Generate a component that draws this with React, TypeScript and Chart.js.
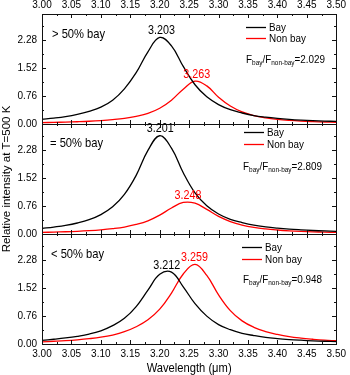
import React, { useEffect, useRef } from "react";
import { Chart, registerables } from "chart.js";

Chart.register(...registerables);

// ---------- data ----------
const WAVELENGTH = [
  3.0, 3.02, 3.04, 3.06, 3.08, 3.1, 3.12, 3.14, 3.16, 3.18, 3.2, 3.22, 3.24,
  3.26, 3.28, 3.3, 3.32, 3.34, 3.36, 3.38, 3.4, 3.42, 3.44, 3.46, 3.48, 3.5,
];

const BAY_GT = [0.13, 0.16, 0.2, 0.26, 0.345, 0.46, 0.65, 0.96, 1.4, 1.97, 2.36, 2.13, 1.57, 1.07, 0.74, 0.53, 0.39, 0.3, 0.23, 0.187, 0.154, 0.128, 0.108, 0.093, 0.08, 0.07];
const NONBAY_GT = [0.038, 0.044, 0.052, 0.062, 0.075, 0.094, 0.12, 0.155, 0.21, 0.29, 0.43, 0.65, 0.95, 1.17, 1.04, 0.73, 0.49, 0.33, 0.23, 0.169, 0.128, 0.1, 0.08, 0.066, 0.055, 0.046];

const BAY_EQ = [0.15, 0.19, 0.236, 0.3, 0.39, 0.53, 0.74, 1.08, 1.6, 2.28, 2.68, 2.34, 1.67, 1.12, 0.77, 0.545, 0.4, 0.31, 0.24, 0.194, 0.16, 0.133, 0.113, 0.096, 0.083, 0.073];
const NONBAY_EQ = [0.044, 0.052, 0.062, 0.074, 0.091, 0.114, 0.146, 0.19, 0.26, 0.36, 0.515, 0.71, 0.86, 0.84, 0.67, 0.48, 0.34, 0.244, 0.18, 0.138, 0.109, 0.087, 0.071, 0.059, 0.05, 0.043];

const BAY_LT = [0.1, 0.13, 0.165, 0.21, 0.27, 0.36, 0.5, 0.7, 1.02, 1.47, 1.9, 1.96, 1.56, 1.1, 0.76, 0.53, 0.39, 0.29, 0.23, 0.18, 0.147, 0.122, 0.103, 0.087, 0.075, 0.066];
const NONBAY_LT = [0.06, 0.075, 0.092, 0.115, 0.145, 0.185, 0.245, 0.335, 0.47, 0.66, 0.95, 1.39, 1.91, 2.17, 1.87, 1.34, 0.91, 0.63, 0.455, 0.34, 0.26, 0.2, 0.16, 0.13, 0.105, 0.088];

const PANEL_LABELS = ["> 50% bay", "= 50% bay", "< 50% bay"];
const PEAK_BAY = [3.203, 3.201, 3.212];
const PEAK_NONBAY = [3.263, 3.248, 3.259];
const RATIOS = ["2.029", "2.809", "0.948"];
const SERIES_NAMES = ["Bay", "Non bay"];

const X_TICKS = [3.0, 3.05, 3.1, 3.15, 3.2, 3.25, 3.3, 3.35, 3.4, 3.45, 3.5];
const Y_TICKS = [0, 0.76, 1.52, 2.28];
const X_MIN = 3.0;
const X_MAX = 3.5;
const Y_MIN = 0;
const Y_MAX = 3.0;

const Y_TITLE = "Relative intensity at T=500 K";
const X_TITLE = "Wavelength (\u03bcm)";

// ---------- styling / layout ----------
const FONT = "'Liberation Sans', Arial, Helvetica, sans-serif";
const BLACK = "#000000";
const RED = "#ff0000";
const SX = 0.86; // horizontal condensing of annotation text

const PANEL_SERIES = [
  [BAY_GT, NONBAY_GT],
  [BAY_EQ, NONBAY_EQ],
  [BAY_LT, NONBAY_LT],
];

// per-panel annotation placement (offsets from panel top / chart area edges)
const LAYOUT = [
  { labelX: 10, labelDy: 20, legX: -90, legDy: [13, 24], ratioX: -90, ratioDy: 46 },
  { labelX: 8, labelDy: 19, legX: -92, legDy: [8, 20], ratioX: -93, ratioDy: 43 },
  { labelX: 9, labelDy: 20, legX: -94, legDy: [13, 25], ratioX: -93, ratioDy: 46 },
];

function condensedText(ctx: CanvasRenderingContext2D, text: string, x: number, y: number, font: string, color: string, align: CanvasTextAlign) {
  ctx.save();
  ctx.font = font;
  ctx.fillStyle = color;
  ctx.textAlign = align;
  ctx.textBaseline = "middle";
  const w = ctx.measureText(text).width * SX;
  ctx.translate(x, y);
  ctx.scale(SX, 1);
  ctx.fillText(text, 0, 0);
  ctx.restore();
  return w;
}

const panelPlugin = {
  id: "panelDecor",
  afterDatasetsDraw(chart: any) {
    const ctx: CanvasRenderingContext2D = chart.ctx;
    const xs = chart.scales.x;
    const area = chart.chartArea;
    const left = Math.round(area.left);
    const right = Math.round(area.right);

    for (let i = 0; i < 3; i++) {
      const ys = chart.scales["y" + i];
      const top = Math.round(ys.top);
      const bottom = Math.round(ys.bottom);
      ctx.save();
      ctx.strokeStyle = "#111";
      ctx.lineWidth = 1;
      ctx.strokeRect(left + 0.5, top + 0.5, right - left, bottom - top);

      // x ticks (inward, top and bottom of each panel)
      ctx.beginPath();
      for (let k = 0; k < X_TICKS.length; k++) {
        const px = Math.round(xs.getPixelForValue(X_TICKS[k])) + 0.5;
        ctx.moveTo(px, bottom);
        ctx.lineTo(px, bottom - 4);
        ctx.moveTo(px, top);
        ctx.lineTo(px, top + 4);
        if (k < X_TICKS.length - 1) {
          const mx = Math.round(xs.getPixelForValue((X_TICKS[k] + X_TICKS[k + 1]) / 2)) + 0.5;
          ctx.moveTo(mx, bottom);
          ctx.lineTo(mx, bottom - 2);
          ctx.moveTo(mx, top);
          ctx.lineTo(mx, top + 2);
        }
      }
      // y ticks (inward, left and right)
      const step = Y_TICKS[1] - Y_TICKS[0];
      const all: [number, number][] = [];
      for (let k = 0; k < Y_TICKS.length; k++) {
        all.push([Y_TICKS[k], 4]);
        all.push([Y_TICKS[k] + step / 2, 2]);
      }
      for (const [v, len] of all) {
        if (v > Y_MAX) continue;
        const py = Math.round(ys.getPixelForValue(v)) + 0.5;
        ctx.moveTo(left, py);
        ctx.lineTo(left + len, py);
        ctx.moveTo(right, py);
        ctx.lineTo(right - len, py);
      }
      ctx.stroke();
      ctx.restore();

      const L = LAYOUT[i];
      // panel label
      condensedText(ctx, PANEL_LABELS[i], left + L.labelX, top + L.labelDy, `13px ${FONT}`, BLACK, "left");

      // peak labels
      const [bay, non] = PANEL_SERIES[i];
      const bayMax = Math.max(...bay);
      const nonMax = Math.max(...non);
      condensedText(ctx, PEAK_BAY[i].toFixed(3), xs.getPixelForValue(PEAK_BAY[i]), ys.getPixelForValue(bayMax) - 7, `12.5px ${FONT}`, BLACK, "center");
      condensedText(ctx, PEAK_NONBAY[i].toFixed(3), xs.getPixelForValue(PEAK_NONBAY[i]), ys.getPixelForValue(nonMax) - 7, `12.5px ${FONT}`, RED, "center");

      // legend
      const colors = [BLACK, RED];
      for (let s = 0; s < 2; s++) {
        const ly = top + L.legDy[s] + 0.5;
        ctx.save();
        ctx.strokeStyle = colors[s];
        ctx.lineWidth = 1.3;
        ctx.beginPath();
        ctx.moveTo(right + L.legX, ly);
        ctx.lineTo(right + L.legX + 20, ly);
        ctx.stroke();
        ctx.restore();
        condensedText(ctx, SERIES_NAMES[s], right + L.legX + 23, ly, `11.5px ${FONT}`, BLACK, "left");
      }

      // ratio text with subscripts
      let x = right + L.ratioX;
      const y = top + L.ratioDy;
      const main = `11.5px ${FONT}`;
      const sub = `7.5px ${FONT}`;
      x += condensedText(ctx, "F", x, y, main, BLACK, "left");
      x += condensedText(ctx, "bay", x, y + 3, sub, BLACK, "left");
      x += condensedText(ctx, "/F", x, y, main, BLACK, "left");
      x += condensedText(ctx, "non-bay", x, y + 3, sub, BLACK, "left");
      condensedText(ctx, "=" + RATIOS[i], x, y, main, BLACK, "left");
    }

    // axis titles
    ctx.save();
    ctx.font = `11.5px ${FONT}`;
    ctx.fillStyle = BLACK;
    ctx.textAlign = "center";
    ctx.textBaseline = "middle";
    ctx.translate(7, (area.top + area.bottom) / 2);
    ctx.rotate(-Math.PI / 2);
    ctx.fillText(Y_TITLE, 0, 0);
    ctx.restore();

    condensedText(ctx, X_TITLE, (area.left + area.right) / 2, 368, `13px ${FONT}`, BLACK, "center");
  },
};

export default function App() {
  const canvasRef = useRef<HTMLCanvasElement | null>(null);

  useEffect(() => {
    if (!canvasRef.current) return;
    const mk = (arr: number[]) => WAVELENGTH.map((x, i) => ({ x, y: arr[i] }));
    const datasets: any[] = [];
    PANEL_SERIES.forEach(([bay, non], i) => {
      datasets.push({ label: "Bay " + i, data: mk(bay), borderColor: BLACK, yAxisID: "y" + i, xAxisID: "x" });
      datasets.push({ label: "Non bay " + i, data: mk(non), borderColor: RED, yAxisID: "y" + i, xAxisID: "x" });
    });

    const tickFont = { family: FONT, size: 10 };
    const yScale = (i: number) => ({
      type: "linear",
      position: "left",
      stack: "panels",
      stackWeight: 1,
      weight: 2 - i,
      min: Y_MIN,
      max: Y_MAX,
      offset: false,
      grid: { display: false, drawTicks: false },
      border: { display: false },
      afterBuildTicks: (s: any) => {
        s.ticks = Y_TICKS.map((v) => ({ value: v }));
      },
      afterFit: (s: any) => {
        s.width = 42;
      },
      ticks: {
        font: tickFont,
        color: "#000",
        padding: 5,
        callback: (v: any) => Number(v).toFixed(2),
      },
    });

    const xScale = (pos: string) => ({
      type: "linear",
      position: pos,
      min: X_MIN,
      max: X_MAX,
      grid: { display: false, drawTicks: false },
      border: { display: false },
      afterBuildTicks: (s: any) => {
        s.ticks = X_TICKS.map((v) => ({ value: v }));
      },
      afterFit: (s: any) => {
        s.height = pos === "top" ? 14 : 31;
      },
      ticks: {
        font: tickFont,
        color: "#000",
        padding: pos === "top" ? 3 : 4,
        maxRotation: 0,
        autoSkip: false,
        callback: (v: any) => Number(v).toFixed(2),
      },
    });

    const chart = new Chart(canvasRef.current, {
      type: "line",
      data: { datasets },
      options: {
        animation: false,
        responsive: true,
        maintainAspectRatio: false,
        layout: { padding: { left: 0, right: 9, top: 0, bottom: 0 } },
        elements: {
          point: { radius: 0 },
          line: { borderWidth: 1.3, tension: 0.4, fill: false },
        },
        plugins: { legend: { display: false }, tooltip: { enabled: false } },
        scales: {
          x: xScale("bottom"),
          x2: xScale("top"),
          y0: yScale(0),
          y1: yScale(1),
          y2: yScale(2),
        } as any,
      },
      plugins: [panelPlugin],
    });
    return () => chart.destroy();
  }, []);

  return (
    <div style={{ position: "fixed", left: 0, top: 0, width: 350, height: 375, background: "#fff" }}>
      <canvas ref={canvasRef} />
    </div>
  );
}
